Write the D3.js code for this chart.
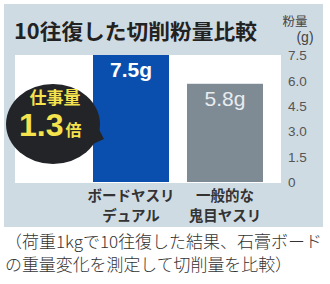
<!DOCTYPE html>
<html><head><meta charset="utf-8">
<script src="https://cdn.jsdelivr.net/npm/d3@7"></script>
<style>
html,body{margin:0;padding:0;background:#fff;}
svg{display:block;}
text{font-family:"Noto Sans CJK JP","Noto Sans",sans-serif;}
</style></head>
<body>
<svg id="c" width="330" height="284"></svg>
<script>
const categories = [["ボードヤスリ","デュアル"],["一般的な","鬼目ヤスリ"]];
const catKeys = ["dual","onime"];
const values = [7.5, 5.8];
const valueLabels = ["7.5g","5.8g"];
const tickValues = [0, 1.5, 3.0, 4.5, 6.0, 7.5];
const tickLabels = ["0","1.5","3.0","4.5","6.0","7.5"];
const title = "10往復した切削粉量比較";
const unitLines = ["粉量","(g)"];
const calloutTop = "仕事量";
const calloutNum = "1.3";
const calloutUnit = "倍";
const captionLines = ["（荷重1kgで10往復した結果、石膏ボード","の重量変化を測定して切削量を比較）"];

const svg = d3.select("#c");
// panel
svg.append("rect").attr("x",4).attr("y",4).attr("width",319).attr("height",223).attr("fill","#cfdbe3");
// plot area
svg.append("rect").attr("x",15).attr("y",55).attr("width",266).attr("height",128).attr("fill","#fff");

const x = d3.scaleBand().domain(catKeys).range([84,272]).paddingInner(0.1915).paddingOuter(0.09575);
const y = d3.scaleLinear().domain([0,7.5]).range([182,55]);
const colors = ["#0b4fae","#7e8b95"];

svg.selectAll("rect.bar").data(values).enter().append("rect").attr("class","bar")
  .attr("x",(d,i)=>x(catKeys[i])).attr("width",x.bandwidth())
  .attr("y",d=>y(d)).attr("height",d=>y(0)-y(d)).attr("fill",(d,i)=>colors[i]);

// value labels
svg.selectAll("text.vl").data(values).enter().append("text").attr("class","vl")
  .attr("x",(d,i)=>x(catKeys[i])+x.bandwidth()/2).attr("y",d=>y(d)+22)
  .attr("text-anchor","middle")
  .style("font-family","'Liberation Sans',Arial,sans-serif")
  .style("font-weight",(d,i)=>i===0?"bold":"normal")
  .style("font-size","21px")
  .attr("fill",(d,i)=>i===0?"#ffffff":"#e9ecef")
  .text((d,i)=>valueLabels[i]);

// y axis
const yAxis = d3.axisRight(y).tickValues(tickValues).tickSize(0).tickFormat((d,i)=>tickLabels[i]);
const ga = svg.append("g").attr("transform","translate(288,0)").call(yAxis);
ga.select(".domain").remove();
ga.selectAll("text").attr("x",0).attr("dy","0.35em").attr("fill","#555")
  .style("font-family","'Liberation Sans',Arial,sans-serif").style("font-size","13.5px");

// unit
svg.append("text").attr("x",295).attr("y",26).attr("text-anchor","middle").attr("fill","#444")
  .style("font-size","12.5px").text(unitLines[0]);
svg.append("text").attr("x",305).attr("y",42).attr("text-anchor","middle").attr("fill","#444")
  .style("font-family","'Liberation Sans',Arial,sans-serif").style("font-size","14px").text(unitLines[1]);

// title
svg.append("text").attr("x",14).attr("y",39).attr("fill","#222")
  .style("font-size","21px").style("font-weight","bold")
  .attr("textLength",243).attr("lengthAdjust","spacingAndGlyphs").text(title);

// category labels
categories.forEach((lines,i)=>{
  const cx = x(catKeys[i])+x.bandwidth()/2;
  lines.forEach((t,j)=>{
    svg.append("text").attr("x",cx).attr("y",201+j*19.5).attr("text-anchor","middle")
      .attr("fill","#333").style("font-size","14.5px").style("font-weight","bold").text(t);
  });
});

// callout
const cg = svg.append("g");
cg.append("path").attr("d","M90,112 L104,139 L80,150 Z").attr("fill","#232428");
cg.append("ellipse").attr("cx",53).attr("cy",124).attr("rx",47).attr("ry",40).attr("fill","#232428");
cg.append("text").attr("x",55).attr("y",104).attr("text-anchor","middle").attr("fill","#f4e34c")
  .style("font-size","17px").style("font-weight","bold").text(calloutTop);
const t2 = cg.append("text").attr("x",19).attr("y",136).attr("fill","#f4e34c");
t2.append("tspan").style("font-family","'Liberation Sans',Arial,sans-serif").style("font-size","32px")
  .style("font-weight","bold").text(calloutNum);
t2.append("tspan").attr("dx",2).style("font-size","16px").style("font-weight","bold").text(calloutUnit);

// caption
captionLines.forEach((t,j)=>{
  svg.append("text").attr("x",5).attr("y",248+j*23).attr("fill","#333")
    .style("font-size","16.5px").style("font-weight","300")
    .attr("textLength",j===0?317:287).attr("lengthAdjust","spacingAndGlyphs").text(t);
});
</script>
</body></html>
